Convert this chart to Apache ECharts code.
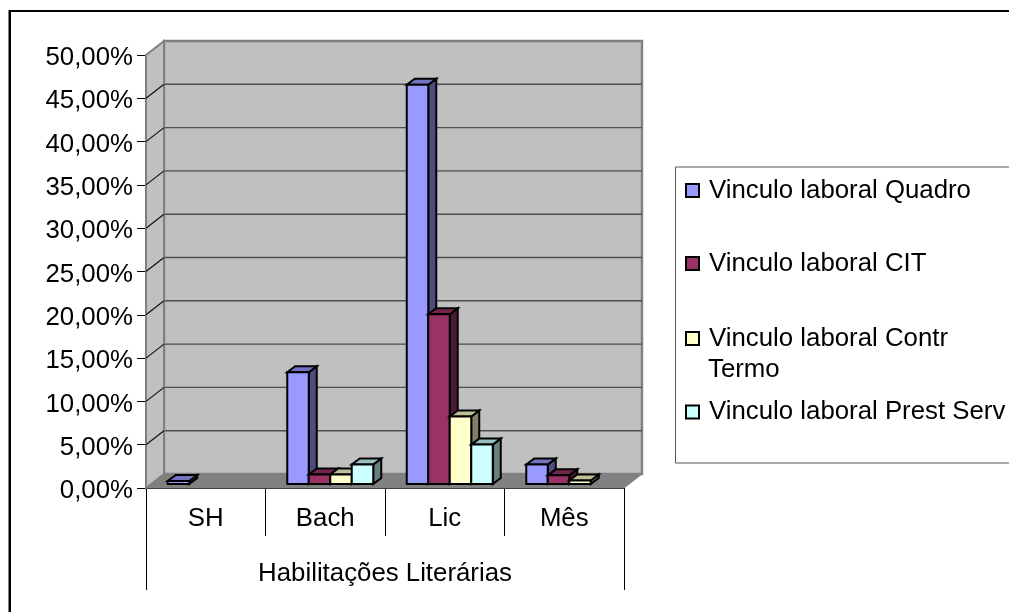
<!DOCTYPE html>
<html>
<head>
<meta charset="utf-8">
<style>
  html, body { margin: 0; padding: 0; background: #fff; overflow: hidden; }
  #chart { width: 1009px; height: 612px; }
</style>
<script src="https://cdn.jsdelivr.net/npm/echarts@6/dist/echarts.min.js"></script>
</head>
<body>
<div id="chart"></div>
<script>
const categories = ['SH', 'Bach', 'Lic', 'Mês'];
const axisTitle = ['Habilitações Literárias'];
const quadro = [0.35, 12.9, 46.1, 2.25];
const cit = [null, 1.1, 19.6, 1.0];
const contr = [null, 1.1, 7.8, 0.4];
const prest = [null, 2.25, 4.55, null];
const gridTicks = [5, 10, 15, 20, 25, 30, 35, 40, 45, 50];

const seriesNames = ['Vinculo laboral Quadro', 'Vinculo laboral CIT', 'Vinculo laboral Contr Termo', 'Vinculo laboral Prest Serv'];
const seriesValues = [quadro, cit, contr, prest];
const seriesColors = ['#9999FF', '#993366', '#FFFFCC', '#CCFFFF'];
const sideColors = ['#4D4D80', '#4D1A33', '#808066', '#668080'];
const topColors = ['#7373BF', '#73264D', '#BFBF99', '#99BFBF'];

const FONT = '"Liberation Sans", Arial, sans-serif';
const FONT_SIZE = 25.8;
const WALL_DX = 18, WALL_DY = -14;   // depth of the chart box
const BAR_DX = 8, BAR_DY = -6;       // depth of one bar
const BAR_W = 21.5;

const poly = (points, fill, stroke, width) => ({
    type: 'polygon',
    shape: { points },
    style: { fill, stroke, lineWidth: width }
});

// walls, floor and gridlines
const renderWalls = (params, api) => {
    const lo = api.coord([0, 0]);
    const hi = api.coord([3, 50]);
    const half = api.size([1, 0])[0] / 2;
    const x0 = lo[0] - half, x1 = hi[0] + half, y0 = lo[1], y1 = hi[1];
    const children = [
        poly([[x0 + WALL_DX, y1 + WALL_DY], [x1 + WALL_DX, y1 + WALL_DY], [x1 + WALL_DX, y0 + WALL_DY], [x0 + WALL_DX, y0 + WALL_DY]], '#C0C0C0', '#808080', 2.4),
        poly([[x0, y1], [x0 + WALL_DX, y1 + WALL_DY], [x0 + WALL_DX, y0 + WALL_DY], [x0, y0]], '#C0C0C0', '#808080', 2)
    ];
    gridTicks.forEach((t) => {
        const y = api.coord([0, t])[1];
        if (t < 50) {
            children.push({
                type: 'line',
                shape: { x1: x0 + WALL_DX + 1, y1: y + WALL_DY, x2: x1 + WALL_DX, y2: y + WALL_DY },
                style: { stroke: '#4D4D4D', lineWidth: 1.4 }
            });
            children.push({
                type: 'line',
                shape: { x1: x0, y1: y, x2: x0 + WALL_DX, y2: y + WALL_DY },
                style: { stroke: '#111', lineWidth: 1.2 }
            });
        }
    });
    children.push(poly([[x0, y0], [x0 + WALL_DX, y0 + WALL_DY], [x1 + WALL_DX, y0 + WALL_DY], [x1, y0]], '#808080', '#808080', 1));
    return { type: 'group', children };
};

// one 3D bar of series idx
const makeBarRenderer = (idx) => (params, api) => {
    const v = api.value(1);
    if (v === null || isNaN(v)) return null;
    const base = api.coord([api.value(0), 0]);
    const top = api.coord([api.value(0), v]);
    const xl = base[0] + 5 + (idx - 2) * BAR_W;
    const xr = xl + BAR_W;
    const yb = base[1] - 4, yt = top[1] - 4;
    const stroke = '#000', width = 2;
    return {
        type: 'group',
        children: [
            poly([[xr, yb], [xr + BAR_DX, yb + BAR_DY], [xr + BAR_DX, yt + BAR_DY], [xr, yt]], sideColors[idx], stroke, width),
            poly([[xl, yt], [xl + BAR_DX, yt + BAR_DY], [xr + BAR_DX, yt + BAR_DY], [xr, yt]], topColors[idx], stroke, width),
            poly([[xl, yb], [xr, yb], [xr, yt], [xl, yt]], seriesColors[idx], stroke, width)
        ]
    };
};

const legendTops = [177.5, 250.5, 325.5, 399];
const chart = echarts.init(document.getElementById('chart'), null, { renderer: 'canvas' });

chart.setOption({
    backgroundColor: '#fff',
    animation: false,
    grid: { left: 146, top: 55, width: 478, height: 433 },
    xAxis: [
        {
            type: 'category',
            data: categories,
            position: 'bottom',
            axisLine: { lineStyle: { color: '#000', width: 1 } },
            axisTick: { show: true, alignWithLabel: false, interval: 0, length: 48, lineStyle: { color: '#000' } },
            axisLabel: { color: '#000', fontFamily: FONT, fontSize: FONT_SIZE, margin: 18, interval: 0 },
            splitLine: { show: false }
        },
        {
            type: 'category',
            data: axisTitle,
            position: 'bottom',
            offset: 48,
            axisLine: { show: false },
            axisTick: { show: true, alignWithLabel: false, length: 54, lineStyle: { color: '#000' } },
            axisLabel: { color: '#000', fontFamily: FONT, fontSize: FONT_SIZE, margin: 25 }
        }
    ],
    yAxis: {
        type: 'value',
        min: 0,
        max: 50,
        interval: 5,
        axisLine: { show: true, lineStyle: { color: '#000', width: 1 } },
        axisTick: { show: true, length: 9, lineStyle: { color: '#000' } },
        axisLabel: {
            margin: 13,
            formatter: (v) => '{v|' + v.toFixed(2).replace('.', ',') + '%}',
            rich: {
                // pushes the text a little below its tick, as in the original
                v: { color: '#000', fontFamily: FONT, fontSize: FONT_SIZE, padding: [6, 0, 0, 0] }
            }
        },
        splitLine: { show: false }
    },
    legend: seriesNames.map((name, i) => ({
        data: [name],
        left: 685,
        top: legendTops[i],
        padding: 0,
        itemWidth: 13,
        itemHeight: 13,
        itemGap: 0,
        icon: 'rect',
        itemStyle: { borderColor: '#000', borderWidth: 2 },
        selectedMode: false,
        formatter: (n) => n.replace(' Termo', ''),
        textStyle: { color: '#000', fontFamily: FONT, fontSize: FONT_SIZE, padding: [0, 0, 5, 5] }
    })),
    graphic: [
        { type: 'line', z: -1, shape: { x1: 9.75, y1: 11, x2: 1009, y2: 11 }, style: { stroke: '#000', lineWidth: 2 } },
        { type: 'line', z: -1, shape: { x1: 9.75, y1: 10, x2: 9.75, y2: 612 }, style: { stroke: '#000', lineWidth: 2.5 } },
        { type: 'rect', z: -1, shape: { x: 675.5, y: 167, width: 400, height: 296 }, style: { fill: '#fff', stroke: '#555', lineWidth: 1 } },
        { type: 'text', left: 708, top: 357, style: { text: 'Termo', fill: '#000', font: FONT_SIZE + 'px ' + FONT } }
    ],
    series: [
        {
            type: 'custom',
            name: 'walls',
            silent: true,
            z: 1,
            clip: false,
            renderItem: renderWalls,
            data: [[0, 0]]
        }
    ].concat(seriesValues.map((vals, i) => ({
        type: 'custom',
        name: seriesNames[i],
        z: 2 + i,
        clip: false,
        itemStyle: { color: seriesColors[i] },
        renderItem: makeBarRenderer(i),
        encode: { x: 0, y: 1 },
        data: vals.map((v, c) => [c, v])
    })))
});
</script>
</body>
</html>
